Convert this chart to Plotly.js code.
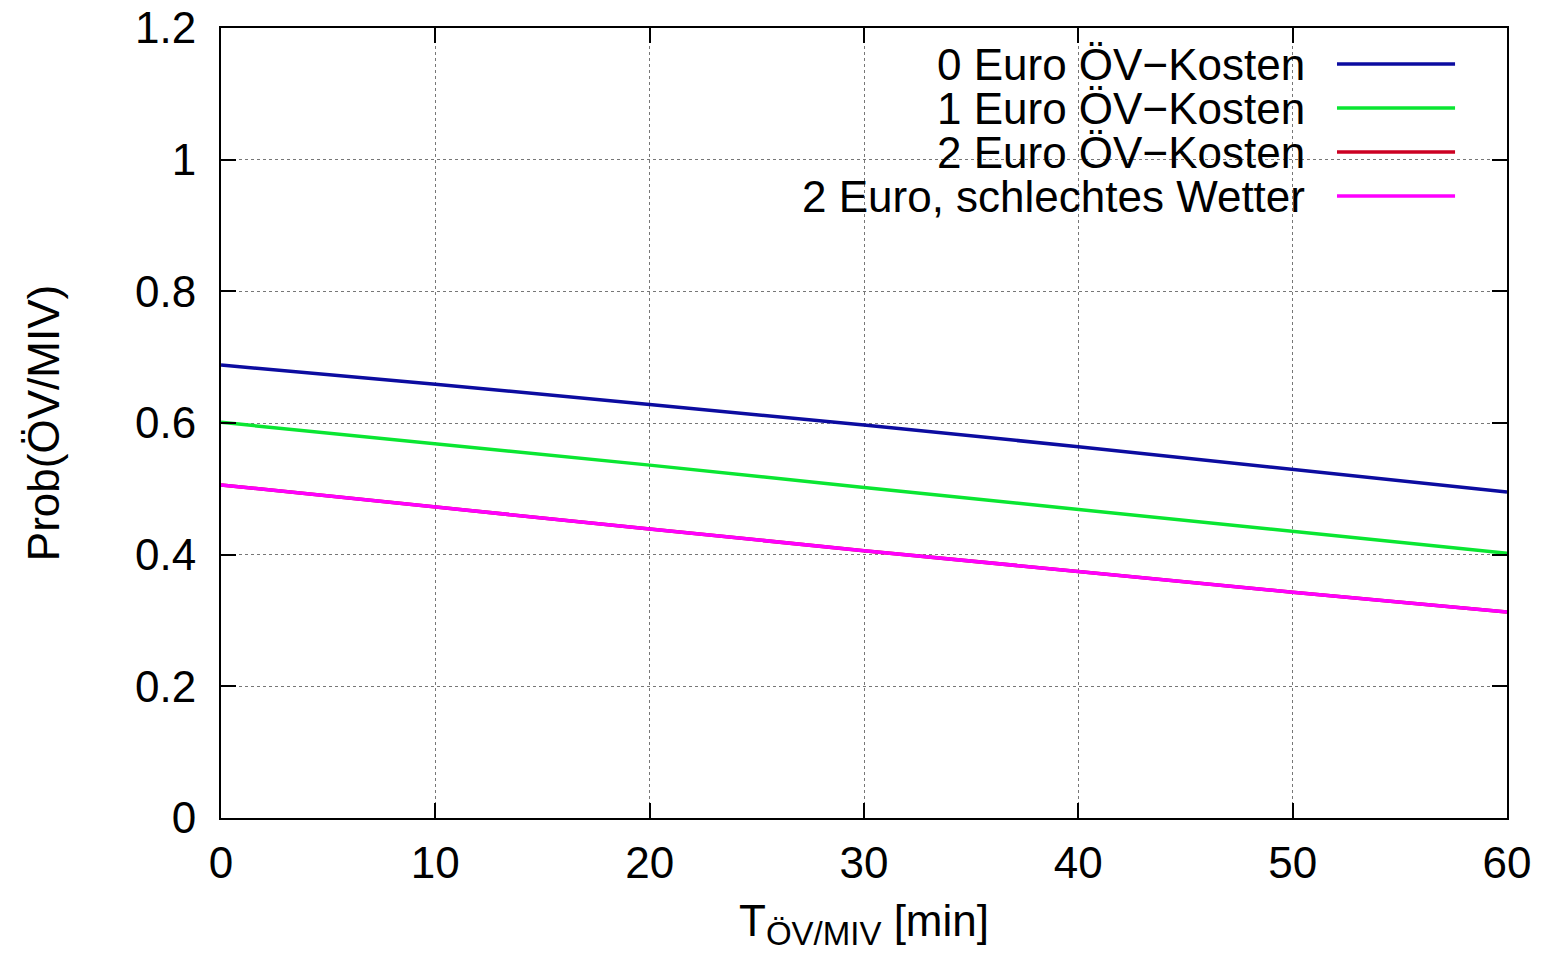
<!DOCTYPE html>
<html>
<head>
<meta charset="utf-8">
<script src="https://cdn.plot.ly/plotly-3.0.1.min.js"></script>
<style>html,body{margin:0;padding:0;background:#fff;}#chart{width:1543px;height:955px;}</style>
</head>
<body>
<div id="chart"></div>
<script>
// Data
const tMin = [0, 10, 20, 30, 40, 50, 60];
const prob0Euro = [0.688, 0.659, 0.628, 0.597, 0.564, 0.530, 0.495];
const prob1Euro = [0.601, 0.569, 0.536, 0.502, 0.469, 0.435, 0.402];
const prob2Euro = [0.506, 0.472, 0.439, 0.406, 0.374, 0.343, 0.313];
const prob2EuroBadWeather = [0.506, 0.472, 0.439, 0.406, 0.374, 0.343, 0.313];
const seriesNames = ['0 Euro ÖV\u2212Kosten', '1 Euro ÖV\u2212Kosten', '2 Euro ÖV\u2212Kosten', '2 Euro, schlechtes Wetter'];
const seriesColors = ['#0c0ca0', '#0ae632', '#cc0022', '#ff00ff'];
const xTicks = [0, 10, 20, 30, 40, 50, 60];
const yTicks = [0, 0.2, 0.4, 0.6, 0.8, 1, 1.2];
const yTickLabels = ['0', '0.2', '0.4', '0.6', '0.8', '1', '1.2'];

const seriesValues = [prob0Euro, prob1Euro, prob2Euro, prob2EuroBadWeather];
const FONT = 'Liberation Sans, Arial, Helvetica, sans-serif';
const FS = 44;

const traces = seriesValues.map((vals, i) => ({
  x: tMin, y: vals, type: 'scatter', mode: 'lines', name: seriesNames[i],
  line: {color: seriesColors[i], width: 3.5}, showlegend: false, hoverinfo: 'skip'
}));

// custom legend (text left of line sample, like gnuplot)
const legTop = 0.9544, legStep = 0.0557;
const annotations = seriesNames.map((n, i) => ({
  xref: 'paper', yref: 'paper', x: 0.8445, y: legTop - i * legStep,
  xanchor: 'right', yanchor: 'middle', text: n, showarrow: false,
  font: {family: FONT, size: FS, color: '#000'}
}));
const shapes = seriesNames.map((n, i) => ({
  type: 'line', xref: 'paper', yref: 'paper',
  x0: 0.8678, x1: 0.9596, y0: legTop - i * legStep, y1: legTop - i * legStep,
  line: {color: seriesColors[i], width: 3.5}
}));

const axisCommon = {
  showline: true, linecolor: '#000', linewidth: 2, mirror: 'allticks',
  ticks: 'inside', ticklen: 15, tickwidth: 2, tickcolor: '#000',
  showgrid: true, gridcolor: '#777', griddash: 'dot', gridwidth: 1,
  zeroline: false, tickfont: {family: FONT, size: FS, color: '#000'}
};

const layout = {
  width: 1543, height: 955,
  margin: {l: 221, r: 36, t: 28, b: 137},
  paper_bgcolor: '#fff', plot_bgcolor: '#fff',
  xaxis: Object.assign({}, axisCommon, {
    range: [0, 60], tickmode: 'array', tickvals: xTicks,
    ticklabelstandoff: 5,
    title: {text: 'T<sub><span style="font-size:33px">ÖV/MIV</span></sub> [min]', font: {family: FONT, size: FS, color: '#000'}, standoff: 19}
  }),
  yaxis: Object.assign({}, axisCommon, {
    range: [0, 1.2], tickmode: 'array', tickvals: yTicks, ticktext: yTickLabels,
    ticklabelstandoff: 14,
    title: {text: 'Prob(ÖV/MIV)', font: {family: FONT, size: FS, color: '#000'}, standoff: 62}
  }),
  annotations: annotations,
  shapes: shapes,
  showlegend: false
};

Plotly.newPlot('chart', traces, layout, {displayModeBar: false, staticPlot: true});
</script>
</body>
</html>
